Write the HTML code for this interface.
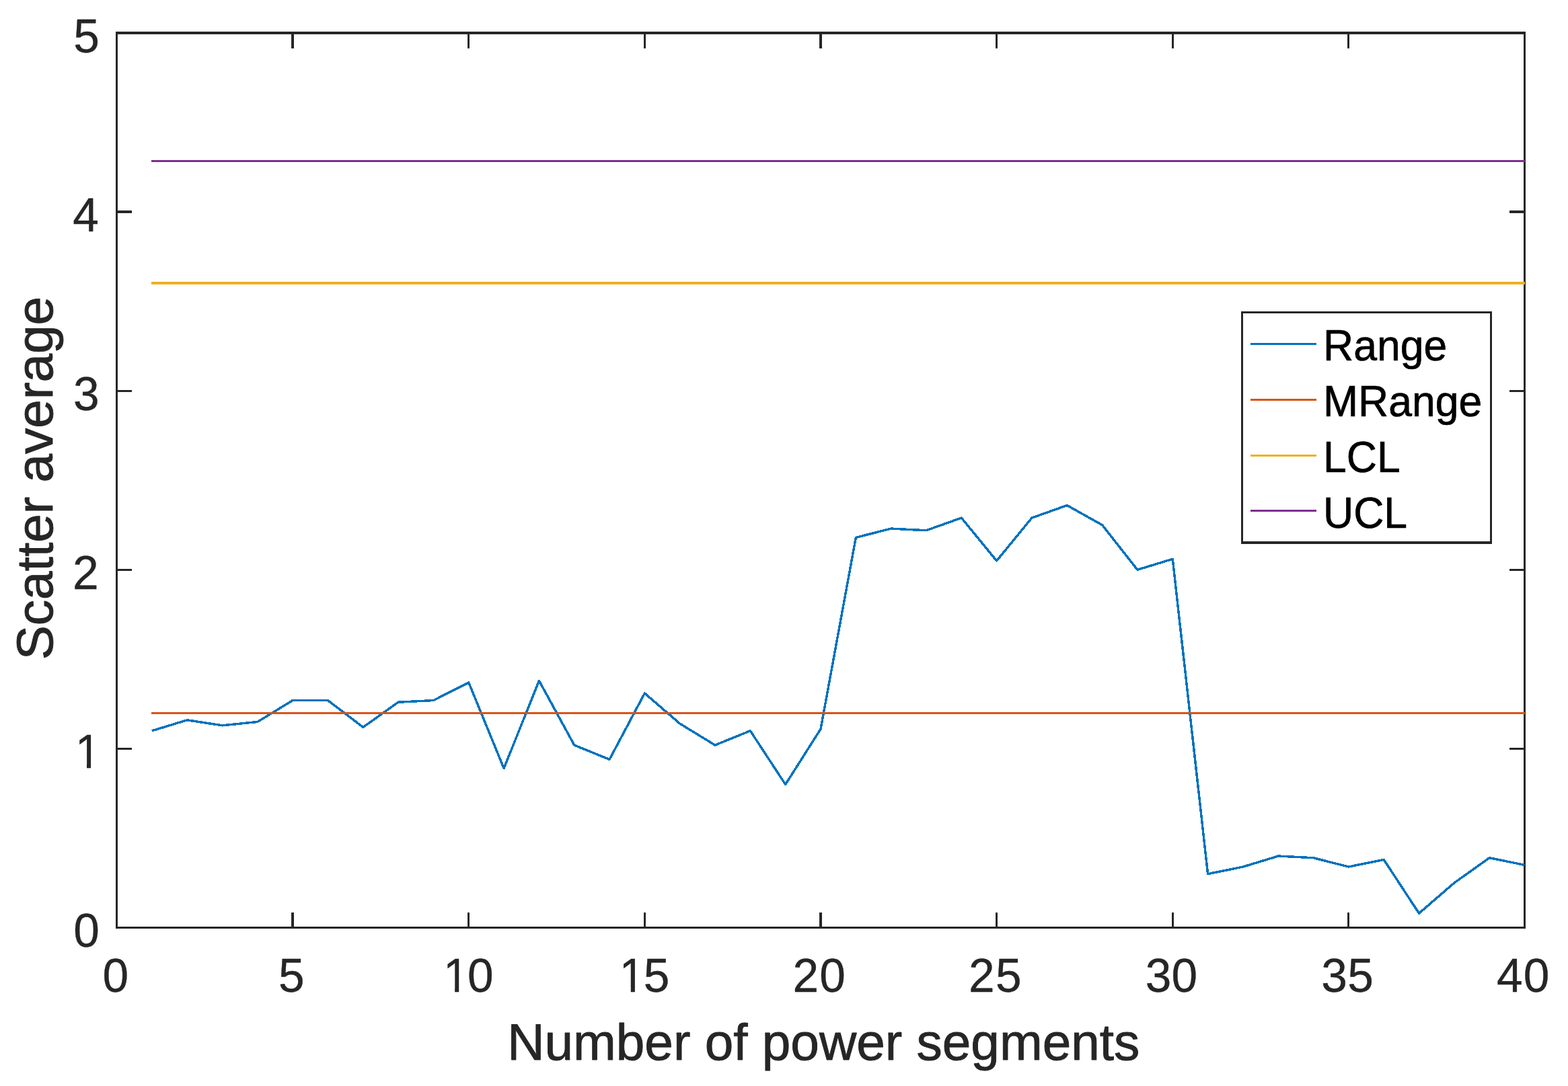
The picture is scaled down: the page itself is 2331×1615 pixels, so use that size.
<!DOCTYPE html>
<html lang="en"><head><meta charset="utf-8"><title>Scatter average vs. number of power segments</title>
<style>
html,body{margin:0;padding:0;background:#fff;}
body{width:2331px;height:1615px;overflow:hidden;}
svg{display:block;}
text{font-family:"Liberation Sans",sans-serif;stroke-linejoin:round;}
.tick{font-size:69.44px;fill:#262626;stroke:#262626;stroke-width:.4px;}
.lab{font-size:76.55px;fill:#262626;stroke:#262626;stroke-width:.9px;}
.leg{font-size:62.50px;fill:#000;stroke:#000;stroke-width:.7px;}
.ax{fill:#262626;stroke:none;shape-rendering:crispEdges;}
.d{fill:none;stroke-width:3.47;stroke-linejoin:round;stroke-linecap:butt;shape-rendering:crispEdges;}
.h{stroke:none;shape-rendering:crispEdges;}
</style></head><body>
<svg width="2331" height="1615" viewBox="0 0 2331 1615">
<rect x="0" y="0" width="2331" height="1615" fill="#fff"/>
<path class="ax" d="M172 47H175V1381H172ZM2265 47H2268V1381H2265ZM172 47H2268V51H172ZM172 1378H2268V1381H172ZM433 1357H437V1379H433ZM433 50H437V72H433ZM695 1357H698V1379H695ZM695 50H698V72H695ZM957 1357H960V1379H957ZM957 50H960V72H957ZM1218 1357H1222V1379H1218ZM1218 50H1222V72H1218ZM1480 1357H1483V1379H1480ZM1480 50H1483V72H1480ZM1742 1357H1745V1379H1742ZM1742 50H1745V72H1742ZM2003 1357H2006V1379H2003ZM2003 50H2006V72H2003ZM174 313H196V317H174ZM2244 313H2266V317H2244ZM174 580H196V583H174ZM2244 580H2266V583H2244ZM174 846H196V849H174ZM2244 846H2266V849H2244ZM174 1112H196V1115H174ZM2244 1112H2266V1115H2244Z"/>
<polyline class="d" stroke="#0072BD" points="225.82,1086.79 278.15,1070.82 330.48,1078.81 382.8,1073.49 435.12,1041.55 487.45,1041.55 539.77,1081.47 592.1,1044.21 644.42,1041.55 696.75,1014.94 749.08,1142.67 801.4,1012.28 853.73,1108.08 906.05,1129.37 958.38,1030.91 1010.7,1076.15 1063.03,1108.08 1115.35,1086.79 1167.67,1166.62 1220,1084.13 1272.33,799.4 1324.65,786.1 1376.97,788.76 1429.3,770.13 1481.62,834 1533.95,770.13 1586.28,751.5 1638.6,780.77 1690.92,847.3 1743.25,831.33 1795.58,1299.67 1847.9,1289.03 1900.22,1273.06 1952.55,1275.72 2004.88,1289.03 2057.2,1278.38 2109.53,1358.21 2161.85,1312.97 2214.18,1275.72 2266.5,1286.37"/>
<path class="h" fill="#D95319" d="M225 1059H2267V1062H225Z"/>
<path class="h" fill="#EDB120" d="M225 419H2267V423H225Z"/>
<path class="h" fill="#7E2F8E" d="M225 238H2267V241H225Z"/>
<defs><clipPath id="c0"><rect x="656.43" y="1413" width="25.8" height="55.7"/><rect x="676.13" y="1413" width="6.1" height="64"/><rect x="695.85" y="1413" width="42.62" height="70"/></clipPath><clipPath id="c1"><rect x="918.06" y="1413" width="25.8" height="55.7"/><rect x="937.76" y="1413" width="6.1" height="64"/><rect x="957.47" y="1413" width="42.62" height="70"/></clipPath><clipPath id="c2"><rect x="109.3" y="1080" width="25.8" height="55.7"/><rect x="129" y="1080" width="6.1" height="64"/></clipPath></defs>
<g class="tick">
<g><text transform="translate(0 1475) scale(1 1.02)" x="152.49">0</text></g>
<g><text transform="translate(0 1475) scale(1 1.02)" x="414.12">5</text></g>
<g clip-path="url(#c0)"><text transform="translate(0 1475) scale(1 1.02)" x="658.97 695.05">10</text></g>
<g clip-path="url(#c1)"><text transform="translate(0 1475) scale(1 1.02)" x="920.59 956.67">15</text></g>
<g><text transform="translate(0 1475) scale(1 1.02)" x="1178.48 1218.3">20</text></g>
<g><text transform="translate(0 1475) scale(1 1.02)" x="1440.11 1479.92">25</text></g>
<g><text transform="translate(0 1475) scale(1 1.02)" x="1702.73 1741.55">30</text></g>
<g><text transform="translate(0 1475) scale(1 1.02)" x="1964.36 2003.17">35</text></g>
<g><text transform="translate(0 1475) scale(1 1.02)" x="2225.08 2264.8">40</text></g>
<g><text transform="translate(0 1408) scale(1 1.02)" x="109.3">0</text></g>
<g clip-path="url(#c2)"><text transform="translate(0 1142) scale(1 1.02)" x="111.84">1</text></g>
<g><text transform="translate(0 876) scale(1 1.02)" x="108.1">2</text></g>
<g><text transform="translate(0 610) scale(1 1.02)" x="109.1">3</text></g>
<g><text transform="translate(0 344) scale(1 1.02)" x="108.2">4</text></g>
<g><text transform="translate(0 78) scale(1 1.02)" x="109.3">5</text></g>
</g>
<text class="lab" text-anchor="middle" x="1224.25" y="1576">Number of power segments</text>
<text class="lab" text-anchor="middle" transform="translate(78.1 711.1) rotate(-90)">Scatter average</text>
<rect x="1846" y="464" width="371" height="343" fill="#fff"/>
<path class="ax" d="M1845 463H1848V809H1845ZM2215 463H2218V809H2215ZM1845 463H2218V466H1845ZM1845 805H2218V809H1845Z"/>
<path class="h" fill="#0072BD" d="M1859 510H1957V513H1859Z"/>
<path class="h" fill="#D95319" d="M1859 593H1957V596H1859Z"/>
<path class="h" fill="#EDB120" d="M1859 676H1957V679H1859Z"/>
<path class="h" fill="#7E2F8E" d="M1859 758H1957V761H1859Z"/>
<g class="leg">
<text transform="translate(1967 536) scale(1 1.03)">Range</text>
<text transform="translate(1967 619) scale(1 1.03)">MRange</text>
<text transform="translate(1967 702) scale(1 1.03)">LCL</text>
<text transform="translate(1967 785) scale(1 1.03)">UCL</text>
</g>
</svg>
</body></html>
